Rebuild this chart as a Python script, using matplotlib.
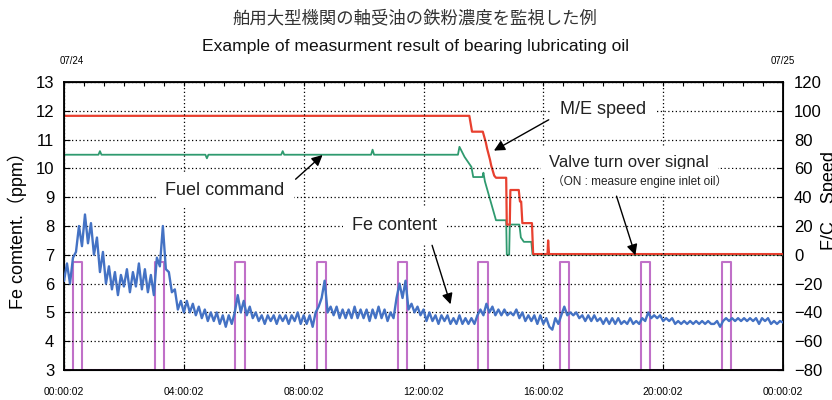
import numpy as np
import matplotlib
matplotlib.use('Agg')
import matplotlib.pyplot as plt

plt.rcParams['font.family'] = ['Liberation Sans Narrow', 'Liberation Sans', 'Noto Sans CJK JP']

# Fe content (ppm), sampled every 0.1 h from 00:00 to 24:00
fe_ppm = [
    6.1, 6.7, 6.0, 6.9, 7.1, 8.0, 7.3, 8.4, 7.4, 8.1,
    7.0, 7.6, 6.4, 7.1, 6.0, 6.6, 5.8, 6.4, 5.6, 6.3,
    5.9, 6.5, 5.7, 6.4, 5.9, 6.7, 5.8, 6.5, 5.7, 6.3,
    5.6, 6.9, 6.6, 8.0, 6.5, 6.4, 5.7, 5.8, 5.1, 5.4,
    5.0, 5.4, 5.0, 5.3, 4.9, 5.2, 4.8, 5.1, 4.7, 5.0,
    4.7, 5.0, 4.6, 4.9, 4.5, 4.9, 4.6, 5.0, 5.6, 5.0,
    5.4, 4.9, 5.2, 4.8, 5.0, 4.7, 4.9, 4.6, 4.9, 4.7,
    4.9, 4.6, 4.9, 4.7, 4.9, 4.6, 4.9, 4.7, 5.0, 4.6,
    4.9, 4.6, 4.9, 4.5, 5.0, 5.2, 5.5, 6.1, 5.0, 5.2,
    4.9, 5.2, 4.8, 5.1, 4.8, 5.1, 4.8, 5.2, 4.8, 5.1,
    4.8, 5.1, 4.7, 5.1, 4.8, 5.2, 4.8, 5.1, 4.7, 5.0,
    4.8, 5.5, 6.0, 5.5, 6.1, 5.1, 5.3, 5.0, 5.2, 4.9,
    5.1, 4.7, 5.0, 4.7, 4.9, 4.6, 4.9, 4.7, 4.9, 4.6,
    4.8, 4.6, 4.9, 4.6, 4.8, 4.6, 4.8, 4.6, 4.9, 5.1,
    4.9, 5.3, 5.0, 5.2, 4.9, 5.1, 4.9, 5.1, 4.9, 5.0,
    4.9, 5.1, 4.8, 5.0, 4.7, 4.9, 4.7, 4.9, 4.6, 4.9,
    4.6, 4.8, 4.5, 4.4, 4.8, 4.6, 4.9, 5.2, 4.9, 5.0,
    4.9, 5.0, 4.8, 4.9, 4.7, 4.9, 4.7, 4.9, 4.7, 4.8,
    4.6, 4.8, 4.6, 4.8, 4.6, 4.8, 4.6, 4.7, 4.6, 4.8,
    4.6, 4.7, 4.6, 4.8, 4.7, 5.0, 4.8, 4.9, 4.8, 4.9,
    4.7, 4.8, 4.7, 4.8, 4.6, 4.7, 4.6, 4.7, 4.6, 4.7,
    4.6, 4.7, 4.6, 4.7, 4.6, 4.7, 4.6, 4.6, 4.7, 4.5,
    4.7, 4.8, 4.7, 4.8, 4.7, 4.8, 4.7, 4.8, 4.7, 4.8,
    4.7, 4.8, 4.6, 4.8, 4.7, 4.8, 4.6, 4.7, 4.6, 4.7,
    4.65,
]
fe_hours = np.arange(len(fe_ppm)) * 0.1

# main engine speed (right axis)
me_hours = [0.0, 13.53, 13.62, 13.98, 14.08, 14.12, 14.22, 14.26, 14.36, 14.42,
            14.76, 14.78, 14.88, 14.90, 15.18, 15.22, 15.26, 15.30, 15.62, 15.66,
            16.14, 16.16, 16.19, 24.0]
me_speed = [96.5, 96.5, 85.5, 85.5, 78, 74, 66, 62, 55, 53.5,
            53.5, 21, 21, 45, 45, 37, 37, 22, 22, 0.5,
            0.5, 10, 0.5, 0.5]

# fuel command (right axis)
fc_hours = [0.0, 1.15, 1.2, 1.25, 4.72, 4.77, 4.82, 7.25, 7.3, 7.35,
            10.25, 10.3, 10.35, 13.15, 13.2, 13.37, 13.6, 13.66, 13.97, 14.0,
            14.05, 14.42, 14.76, 14.78, 14.86, 14.88, 15.2, 15.25, 15.35, 15.6,
            15.64, 24.0]
fc_cmd = [69.5, 69.5, 72, 69.5, 69.5, 67, 69.5, 69.5, 72, 69.5,
          69.5, 73, 69.5, 69.5, 75, 68, 61, 54, 54, 57,
          51, 24, 24, 0, 0, 21, 21, 12, 9, 9,
          0, 0]

# valve turn over signal: ON windows in hours
valve_on = [0.31, 3.03, 5.72, 8.44, 11.14, 13.83, 16.54, 19.27, 21.98]
valve_off = [0.61, 3.34, 6.03, 8.76, 11.44, 14.16, 16.87, 19.56, 22.28]
valve_high = -5
valve_low = -80

xtick_hours = [0, 4, 8, 12, 16, 20, 24]
xtick_labels = ['00:00:02', '04:00:02', '08:00:02', '12:00:02',
                '16:00:02', '20:00:02', '00:00:02']

# build the rectangular pulse trace
vx = [0.0]
vy = [valve_low]
for a, b in zip(valve_on, valve_off):
    vx += [a, a, b, b]
    vy += [valve_low, valve_high, valve_high, valve_low]
vx.append(24.0)
vy.append(valve_low)

fig = plt.figure(figsize=(8.32, 4.0), dpi=100)
ax = fig.add_axes([64 / 832, 30 / 400, 719 / 832, 288 / 400])
ax2 = ax.twinx()

ax.set_xlim(0, 24)
ax.set_ylim(3, 13)
ax2.set_ylim(-80, 120)

ax.grid(True, color='black', linestyle=(0, (1, 2)), linewidth=0.9)
ax.set_xticks(xtick_hours)
ax.set_xticklabels(xtick_labels, fontsize=7.5, family=['Liberation Sans', 'DejaVu Sans'])
ax.set_yticks(range(3, 14))
ax2.set_yticks(range(-80, 121, 20))
ax.tick_params(axis='both', direction='in', length=4, labelsize=12)
ax.tick_params(axis='x', pad=12, labelsize=7.5)
ax.tick_params(axis='y', pad=7)
ax2.tick_params(axis='y', direction='in', length=4, labelsize=12, pad=8)

# small ticks along the top edge
top = ax.secondary_xaxis('top')
top.set_xticks(np.arange(0, 24.01, 2 / 3))
top.tick_params(direction='in', length=3, labeltop=False)

for s in ['left', 'right', 'top', 'bottom']:
    ax2.spines[s].set_linewidth(1.3)

ax2.plot(vx, vy, color='#c070c8', lw=1.5, zorder=2)
ax.plot(fe_hours, fe_ppm, color='#4472c4', lw=1.7, zorder=3)
ax2.plot(fc_hours, fc_cmd, color='#2f9a6f', lw=1.3, zorder=3)
ax2.plot(me_hours, me_speed, color='#e8402f', lw=1.6, zorder=4)

ax.set_ylabel('Fe comtent.（ppm）', fontsize=13, labelpad=6)
fig.text(829 / 832, 0.5 - 1 / 400, 'F/C　Speed', rotation=90, fontsize=13,
         ha='center', va='center')

box = dict(facecolor='white', edgecolor='none', boxstyle='square,pad=0.5')
arrow = dict(arrowstyle='-|>', color='black', lw=1.0, mutation_scale=16)
txt = '#222222'

ax.annotate('M/E speed', xy=(14.27, 10.57), xytext=(18.0, 12.03),
            fontsize=13, color=txt, ha='center', va='center', bbox=box,
            arrowprops=dict(arrow, relpos=(0.0, 0.3)), zorder=6)
ax.annotate('Fuel command', xy=(8.70, 10.53), xytext=(5.37, 9.22),
            fontsize=13, color=txt, ha='center', va='center', bbox=box,
            arrowprops=dict(arrow, relpos=(1.0, 0.6)), zorder=6)
ax.annotate('Fe content', xy=(12.93, 5.19), xytext=(11.03, 8.03),
            fontsize=13, color=txt, ha='center', va='center', bbox=box,
            arrowprops=dict(arrow, relpos=(0.9, 0.0)), zorder=6)
ax.text(18.87, 10.22, 'Valve turn over signal', fontsize=12, color=txt,
        ha='center', va='center', bbox=box, zorder=6)
ax.annotate('（ON : measure engine inlet oil）', xy=(19.1, 6.89), xytext=(19.23, 9.56),
            fontsize=8.5, color=txt, ha='center', va='center', bbox=box,
            arrowprops=dict(arrow, relpos=(0.35, 0.0)), zorder=6)

# bring the left axes (with the Fe trace and labels) above the twin
ax.set_zorder(ax2.get_zorder() + 1)
ax.patch.set_visible(False)

fig.text(72 / 832, 1 - 61 / 400, '07/24', fontsize=7, ha='center', va='center',
         family=['Liberation Sans', 'DejaVu Sans'])
fig.text(783 / 832, 1 - 61 / 400, '07/25', fontsize=7, ha='center', va='center',
         family=['Liberation Sans', 'DejaVu Sans'])

fig.text(415 / 832, 1 - 18 / 400, '舶用大型機関の軸受油の鉄粉濃度を監視した例',
         fontsize=12.5, ha='center', va='center', color='#333333',
         family=['Noto Sans CJK JP'])
fig.text(415 / 832, 1 - 46 / 400, 'Example of measurment result of bearing lubricating oil',
         fontsize=12.6, ha='center', va='center', color='#111111',
         family=['Liberation Sans', 'DejaVu Sans'])

fig.savefig('out.png', dpi=100)
